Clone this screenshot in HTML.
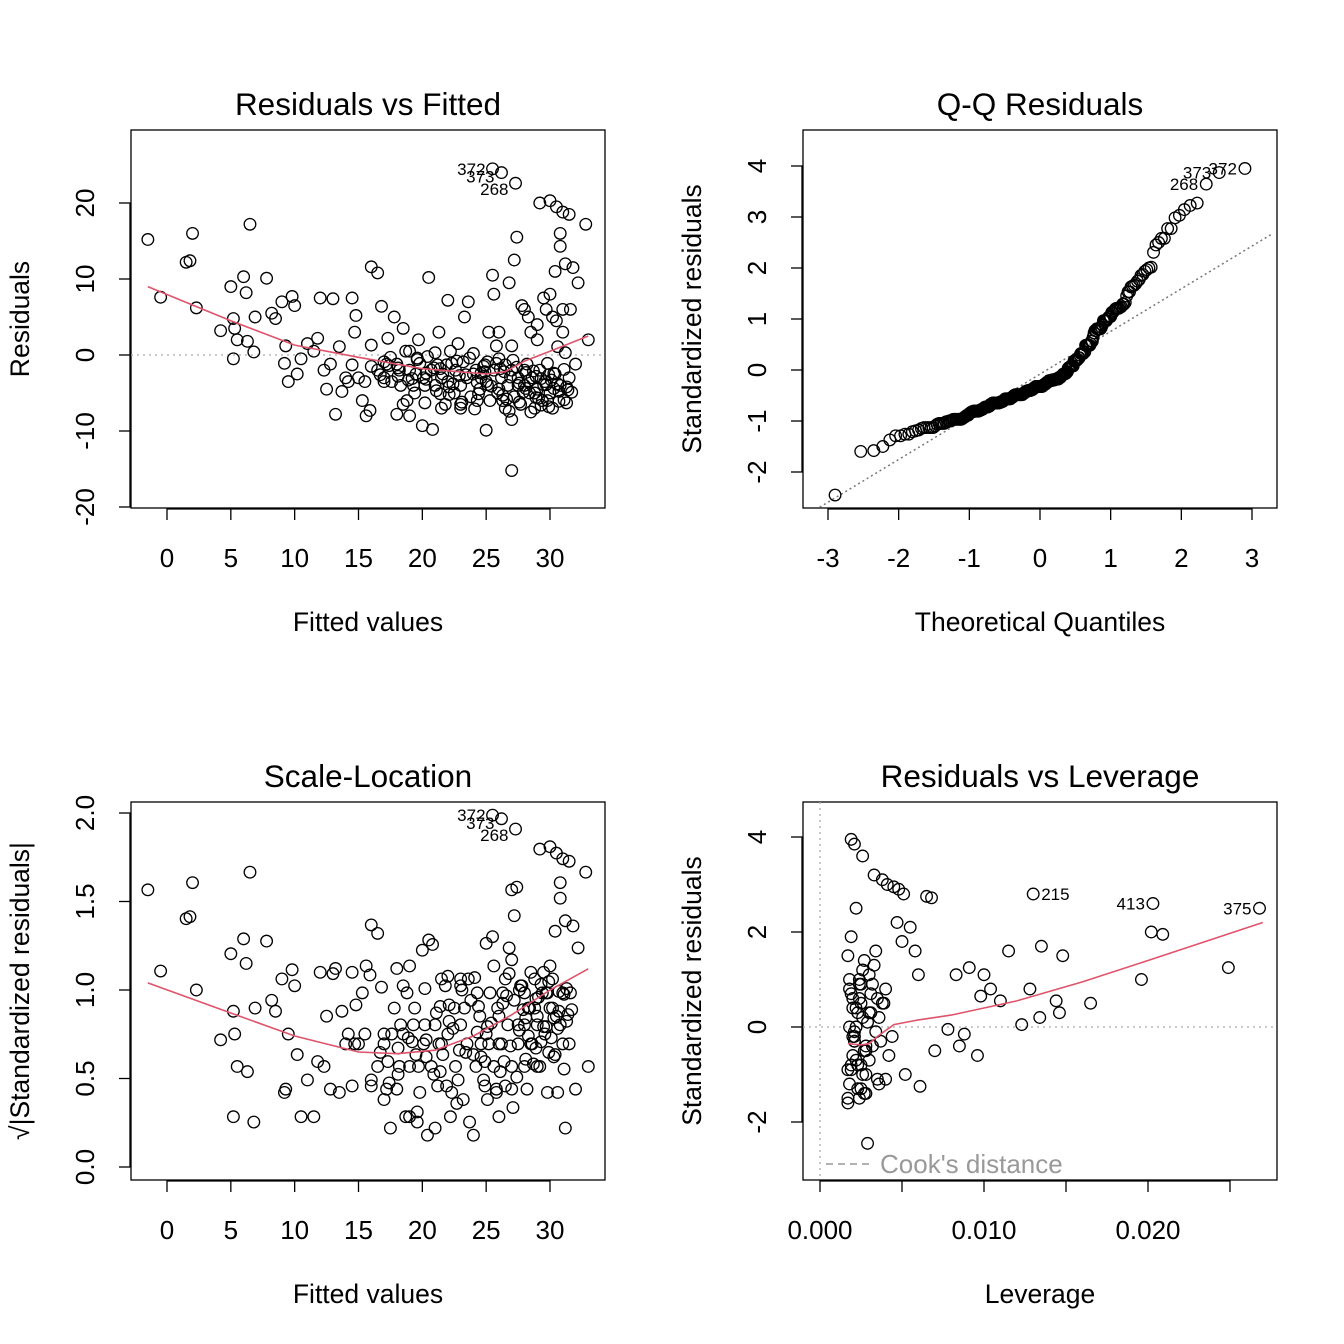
<!DOCTYPE html>
<html><head><meta charset="utf-8"><style>
html,body{margin:0;padding:0;background:#fff}
svg{display:block;font-family:"Liberation Sans",Arial,sans-serif}
</style></head><body>
<svg id="c" width="1344" height="1344" viewBox="0 0 1344 1344"></svg>
<script>
// ---- Data ----
const fittedVals=[25.5,26.2,27.3,-1.5,-0.5,1.5,1.8,2,2.3,4.2,5,5.2,5.3,5.2,5.5,6,6.2,6.5,6.3,6.8,6.9,7.8,8.2,8.5,9,9.2,9.5,9.8,9.3,10,10.2,10.5,11,11.5,11.8,12,12.3,12.5,12.8,13,13.2,13.5,13.7,14,14.2,14.5,14.7,14.8,15,15.3,15.6,15.9,16,16.5,16,16.8,17,17.3,17.6,17.8,18,18.2,18.5,18.8,19,19.3,19.5,19.7,20,20.2,20.5,20.8,21,21.3,21.5,21.8,22,22.3,22.5,22.8,23,23.3,23.6,24,24.3,24.6,25,25.2,25.5,25.6,25.8,26,26.3,26.5,26.8,27,27,27.2,27.4,27.5,27.8,28,28.3,28.5,28.8,29,29.2,29.5,29.8,30,30.2,30.4,30.5,30.8,30.8,31,31.2,31.3,31.5,31.6,31.8,32,32.2,32.8,33,
16.5,17,17.5,18,18.3,18.7,19,19.4,19.8,20.1,20.4,20.7,21,21.2,21.6,22,22.2,22.6,23,23.2,23.5,23.8,24,24.2,24.5,24.8,25,25.3,25.6,25.9,26,26.2,26.5,26.7,27,27.2,27.5,27.7,28,28.2,28.4,28.6,28.8,29,29.2,29.4,29.6,29.8,30,30.2,30.4,30.6,30.8,31,31.2,31.5,29,28.5,30,29.7,30.5,31,26,27,28,23,21.5,19,18.5,17,15.5,14.5,16,
17.2,18.1,19.6,20.3,21.4,22.1,23.4,24.4,25.1,26.4,27.6,28.1,28.9,29.3,29.9,30.3,30.7,31.1,24.9,26.8,
18.1,18.9,19.6,20.3,21.1,21.9,22.4,22.9,23.7,24.3,24.9,25.4,25.8,26.3,26.9,27.4,27.9,28.3,28.7,29.1,29.5,29.9,30.3,30.7,31.1,31.4,17.4,16.7,19.2,20.9,22.7,24.6,26.1,27.6,28.9,30.1,31.3,21.4,23.1,25.1,26.6,28.1,29.3,30.6,20.2,22.1,24.1,27.1,29.7,31.7];
const residVals=[24.5,24,22.6,15.2,7.6,12.2,12.4,16,6.2,3.2,9,4.8,3.5,-0.5,2,10.3,8.2,17.2,1.8,0.4,5,10.1,5.5,4.8,7,-1.1,-3.5,7.7,1.2,6.5,-2.5,-0.5,1.5,0.5,2.2,7.5,-2,-4.5,-1.2,7.4,-7.8,1.1,-4.8,-3,-3.5,7.5,3,5.2,-3,-6,-8,-7.3,11.6,10.8,1.3,6.4,-0.9,2.2,-3.5,5,-7.8,-2,3.5,-6,0.5,-4,-2.5,2,-9.3,-4,10.2,-9.8,0.3,3,-3,-6.5,7.2,-1.1,-5,1.5,-7,5,7,-2.5,-6,-3,-9.9,3,10.5,8,1.2,-4.5,-6,-1.3,9.5,-15.2,-8.5,12.5,15.5,-4,6.5,-2,5,-7.5,-5,2,20,7.5,-6,20.3,5,11,19.5,16,14.3,18.8,12,-6.3,18.5,6,11.5,-1.2,9.5,17.2,2,
-2,-3,-0.3,-1.2,-4,0.5,-2,-5,-1.1,-3,-0.2,-2,-4,-1.3,-2.5,-3.5,0.5,-2,-4,-0.9,-3,-5.5,0.2,-2,-4.5,-1.5,-3.5,-6,-2,-5,-0.5,-3,-7,-4,-2,-5.5,-3,-6.5,-4,-1.2,-5,-3,-7,-4.5,-2,-6,-3.5,-1.1,-5,-7,-2.5,1.1,-4,3,0.3,-3,4,3,8,6,4.5,6,3,1.2,6,-6.5,-7,-8,-6.5,-3.5,-3.5,-1.3,-1.5,
-1.2,-2.8,-0.4,-3.2,-1.8,-4.2,-2.6,-5.1,-3.9,-2.2,-6.2,-4.4,-5.6,-3.1,-6.8,-2.4,-4.8,-5.9,-1.3,-7.4,
-1.7,-3.3,-0.6,-2.4,-4.7,-1.3,-3.8,-2.7,-0.4,-3.6,-2.2,-4.1,-1.1,-5.3,-2.9,-1.6,-4.9,-3.4,-2.1,-5.7,-3.9,-2.6,-4.4,-6.1,-1.9,-4.6,-1.4,-2.6,-3.1,-1.7,-0.8,-2.4,-1.8,-3.7,-2.8,-3.3,-4.2,-5.1,-6.2,-0.9,-5.8,-2.3,-6.6,-3.8,-6.3,-5.2,-7.1,-0.7,-3.9,-4.9];
const labelIdx={372:0,373:1,268:2};
const smooth1X=[-1.5,5,10,15,20,25,26.5,28,30,33];
const smooth1Y=[9,4.5,1.3,-0.3,-1.8,-2.5,-2.2,-0.8,0.5,2.5];
const smooth3X=[-1.5,5,10,15,18,21,24,27,30,33];
const smooth3Y=[1.04,0.87,0.74,0.65,0.64,0.66,0.74,0.86,1.0,1.12];
const sigmaHat=6.2;
// leverage panel
const levVals=[0.0019,0.0021,0.0026,0.0033,0.0038,0.0041,0.0045,0.0048,0.0051,0.0065,0.0068,0.013,0.0203,0.0268,0.0249,0.0196,0.0165,0.0148,0.0135,0.0115,0.0128,0.0144,0.0146,0.0134,0.0123,0.0202,0.0209,0.0083,0.0091,0.01,0.0104,0.0098,0.011,0.0088,0.0096,0.0085,0.0078,0.007,0.0061,0.0052,0.0029,
0.0017,0.0018,0.0019,0.002,0.0021,0.0022,0.0023,0.0024,0.0025,0.0026,0.0027,0.0028,0.003,0.0032,0.0034,0.0036,0.0038,0.004,0.0017,0.0018,0.002,0.0021,0.0023,0.0025,0.0027,0.0029,0.0031,0.0033,0.0035,0.0037,0.0039,0.0042,0.0017,0.0019,0.002,0.0022,0.0024,0.0026,0.0028,0.003,0.0032,0.0034,0.0036,0.0018,0.002,0.0022,0.0024,0.0026,0.0028,0.003,0.0017,0.0019,0.0021,0.0023,0.0025,0.0027,0.0044,0.0047,0.005,0.0055,0.0058,0.006,0.0018,0.0021,0.0024,0.0019,0.0022,0.0025,0.0028,0.0031,0.0035,0.004];
const levStd=[3.95,3.85,3.6,3.2,3.1,3.0,2.95,2.9,2.8,2.75,2.72,2.8,2.6,2.5,1.25,1.0,0.5,1.5,1.7,1.6,0.8,0.55,0.3,0.2,0.05,2.0,1.95,1.1,1.25,1.1,0.8,0.65,0.55,-0.15,-0.6,-0.4,-0.05,-0.5,-1.25,-1.0,-2.45,
-1.5,-1.2,-0.9,-0.6,-0.3,0,0.3,0.6,0.9,1.2,-1.4,-1.0,-0.7,-0.4,-0.1,0.2,0.5,0.8,1.5,1.0,0.4,-0.2,-0.8,-1.3,-0.5,0.1,0.7,1.3,-1.1,-0.3,0.5,-0.6,-1.6,-0.8,-0.2,0.4,1.0,-1.0,-0.4,0.3,0.9,1.6,-1.2,0.0,0.6,-0.7,-1.5,0.2,-0.5,1.1,-0.9,0.7,-0.3,-1.3,0.5,1.4,-0.2,2.2,1.8,2.1,1.6,1.1,0.8,-0.1,0.9,1.9,2.5,-0.8,-1.4,0.3,0.6,-1.1];
const levLabels=[[11,"215"],[12,"413"],[13,"375"]];
const smooth4X=[0.0017,0.0025,0.003,0.0035,0.0045,0.006,0.008,0.012,0.016,0.02,0.027];
const smooth4Y=[-0.35,-0.38,-0.35,-0.2,0.05,0.15,0.25,0.55,0.95,1.4,2.2];

// ---- helpers ----
const svg=document.getElementById('c');const NS='http://www.w3.org/2000/svg';
function mk(tag,at,parent){const e=document.createElementNS(NS,tag);for(const k in at)e.setAttribute(k,at[k]);(parent||svg).appendChild(e);return e;}
function txt(s,x,y,size,anchor,rot,fill,parent){const t=mk('text',{x:x,y:y,'font-size':size,'text-anchor':anchor||'middle',fill:fill||'#000'},parent);if(rot)t.setAttribute('transform',`rotate(-90 ${x} ${y})`);t.textContent=s;return t;}
function lin(d0,d1,r0,r1){return v=>r0+(v-d0)*(r1-r0)/(d1-d0);}
function qnorm(p){const a=[-39.69683028665376,220.9460984245205,-275.9285104469687,138.357751867269,-30.66479806614716,2.506628277459239],b=[-54.47609879822406,161.5858368580409,-155.6989798598866,66.80131188771972,-13.28068155288572],c=[-0.007784894002430293,-0.3223964580411365,-2.400758277161838,-2.549732539343734,4.374664141464968,2.938163982698783],d=[0.007784695709041462,0.3224671290700398,2.445134137142996,3.754408661907416];const pl=0.02425;let q,r;if(p<pl){q=Math.sqrt(-2*Math.log(p));return(((((c[0]*q+c[1])*q+c[2])*q+c[3])*q+c[4])*q+c[5])/((((d[0]*q+d[1])*q+d[2])*q+d[3])*q+1);}if(p>1-pl){q=Math.sqrt(-2*Math.log(1-p));return-(((((c[0]*q+c[1])*q+c[2])*q+c[3])*q+c[4])*q+c[5])/((((d[0]*q+d[1])*q+d[2])*q+d[3])*q+1);}q=p-0.5;r=q*q;return(((((a[0]*r+a[1])*r+a[2])*r+a[3])*r+a[4])*r+a[5])*q/(((((b[0]*r+b[1])*r+b[2])*r+b[3])*r+b[4])*r+1);}

function panel(name,box,title,xlab,ylab,xticks,xtickLab,xs,yticks,ytickLab,ys){
  const g=mk('g',{});
  const r=mk('rect',{x:box[0],y:box[1],width:box[2]-box[0],height:box[3]-box[1],fill:'none',stroke:'#000','stroke-width':1.3},g);
  
  const t=txt(title,(box[0]+box[2])/2,115,31.5,'middle',0,'#000',g);
  if(box[1]>600)t.setAttribute('y',787);
  const off=box[1]>600?672:0;
  const xl=txt(xlab,(box[0]+box[2])/2,631+off,26.5,'middle',0,'#000',g);
  const yx=box[0]-102;const yl=txt(ylab,yx,(box[1]+box[3])/2,26.5,'middle',1,'#000',g);
  const xa=mk('g',{},g);
  mk('line',{x1:xs(xticks[0]),x2:xs(xticks[xticks.length-1]),y1:box[3]+1,y2:box[3]+1,stroke:'#000','stroke-width':1.3},xa);
  xticks.forEach((v,i)=>{const x=xs(v);mk('line',{x1:x,x2:x,y1:box[3],y2:box[3]+12,stroke:'#000','stroke-width':1.3},xa);if(xtickLab[i]!=='')txt(xtickLab[i],x,box[3]+59,26,'middle',0,'#000',xa);});
  const ya=mk('g',{},g);
  mk('line',{x1:box[0]-1,x2:box[0]-1,y1:ys(yticks[0]),y2:ys(yticks[yticks.length-1]),stroke:'#000','stroke-width':1.3},ya);
  yticks.forEach((v,i)=>{const y=ys(v);mk('line',{x1:box[0]-12,x2:box[0],y1:y,y2:y,stroke:'#000','stroke-width':1.3},ya);txt(ytickLab[i],box[0]-37,y,26,'middle',1,'#000',ya);});
  return g;
}
function pts(g,X,Y,xs,ys,nm){const pg=mk('g',{},g);
  for(let i=0;i<X.length;i++){const c=mk('circle',{cx:xs(X[i]),cy:ys(Y[i]),r:5.8,fill:'none',stroke:'#000','stroke-width':1.3},pg);}}
function line(g,X,Y,xs,ys,col,dash,nm){let d='';for(let i=0;i<X.length;i++)d+=(i?'L':'M')+xs(X[i]).toFixed(1)+' '+ys(Y[i]).toFixed(1);const p=mk('path',{d:d,fill:'none',stroke:col,'stroke-width':1.6,'stroke-dasharray':dash||'none'},g);return p;}

// Panel 1
const x1=lin(0,30,167,550),y1=lin(0,20,355,203);
const B1=[131,130,605,508];
const g1=panel('residuals-vs-fitted',B1,'Residuals vs Fitted','Fitted values','Residuals',[0,5,10,15,20,25,30],['0','5','10','15','20','25','30'],x1,[-20,-10,0,10,20],['-20','-10','0','10','20'],y1);
const h1=mk('line',{x1:B1[0],x2:B1[2],y1:y1(0),y2:y1(0),stroke:'#aaa','stroke-width':1.3,'stroke-dasharray':'2 4'},g1);
pts(g1,fittedVals,residVals,x1,y1,'residual-points');
line(g1,smooth1X,smooth1Y,x1,y1,'#DF536B',null,'smooth-line');
function labs(g,xs,ys,yf){const L=[['372',0,0],['373',0,4],['268',0,6]];L.forEach(l=>{const i=labelIdx[l[0]];const t=txt(l[0],xs(fittedVals[i])-7,ys(yf(i))+l[2]+6,17,'end',0,'#000',g);});}
labs(g1,x1,y1,i=>residVals[i]);

// Panel 2 Q-Q
const x2=lin(0,3,1040,1252),y2=lin(0,4,370,166);
const B2=[803,130,1277,508];
const g2=panel('qq-residuals',B2,'Q-Q Residuals','Theoretical Quantiles','Standardized residuals',[-3,-2,-1,0,1,2,3],['-3','-2','-1','0','1','2','3'],x2,[-2,-1,0,1,2,3,4],['-2','-1','0','1','2','3','4'],y2);
const std=residVals.map(v=>v/sigmaHat).slice().sort((a,b)=>a-b);const n=std.length;
const theo=std.map((v,i)=>qnorm((i+0.5)/n));
const q1=std[Math.floor(n*0.25)],q3=std[Math.floor(n*0.75)],t1=qnorm(0.25),t3=qnorm(0.75);const sl=(q3-q1)/(t3-t1),ic=q1-sl*t1;
const qx0=-3.3,qx1=3.3;
const cp=mk('clipPath',{id:'cl2'});mk('rect',{x:B2[0],y:B2[1],width:B2[2]-B2[0],height:B2[3]-B2[1]},cp);
const ql=mk('line',{x1:x2(qx0),y1:y2(ic+sl*qx0),x2:x2(qx1),y2:y2(ic+sl*qx1),stroke:'#777','stroke-width':1.5,'stroke-dasharray':'2 3','clip-path':'url(#cl2)'},g2);
pts(g2,theo,std,x2,y2,'qq-points');
[['372',n-1],['373',n-2],['268',n-3]].forEach(l=>{const t=txt(l[0],x2(theo[l[1]])-8,y2(std[l[1]])+6,17,'end',0,'#000',g2);});

// Panel 3
const y3=lin(0,2,1167,813);
const B3=[131,802,605,1180];
const g3=panel('scale-location',B3,'Scale-Location','Fitted values','√|Standardized residuals|',[0,5,10,15,20,25,30],['0','5','10','15','20','25','30'],x1,[0,0.5,1,1.5,2],['0.0','0.5','1.0','1.5','2.0'],y3);
const sq=residVals.map(v=>Math.sqrt(Math.abs(v/sigmaHat)));
pts(g3,fittedVals,sq,x1,y3,'scale-points');
line(g3,smooth3X,smooth3Y,x1,y3,'#DF536B',null,'smooth-line');
labs(g3,x1,y3,i=>sq[i]);

// Panel 4
const x4=lin(0,0.01,820,984),y4=lin(0,2,1027,932);
const B4=[803,802,1277,1180];
const g4=panel('residuals-vs-leverage',B4,'Residuals vs Leverage','Leverage','Standardized residuals',[0,0.005,0.01,0.015,0.02,0.025],['0.000','','0.010','','0.020',''],x4,[-2,0,2,4],['-2','0','2','4'],y4);
const h4=mk('line',{x1:B4[0],x2:B4[2],y1:y4(0),y2:y4(0),stroke:'#aaa','stroke-width':1.3,'stroke-dasharray':'2 4'},g4);
const v4=mk('line',{x1:x4(0),x2:x4(0),y1:B4[1],y2:B4[3],stroke:'#aaa','stroke-width':1.3,'stroke-dasharray':'2 4'},g4);
pts(g4,levVals,levStd,x4,y4,'leverage-points');
line(g4,smooth4X,smooth4Y,x4,y4,'#DF536B',null,'smooth-line');
levLabels.forEach(l=>{const i=l[0];const right=i===11;const t=txt(l[1],x4(levVals[i])+(right?8:-8),y4(levStd[i])+6,17,right?'start':'end',0,'#000',g4);});
const lg=mk('g',{},g4);
mk('line',{x1:826,x2:870,y1:1164,y2:1164,stroke:'#999','stroke-width':1.5,'stroke-dasharray':'7 5'},lg);
txt("Cook's distance",880,1173,26,'start',0,'#999',lg);
</script>
</body></html>
